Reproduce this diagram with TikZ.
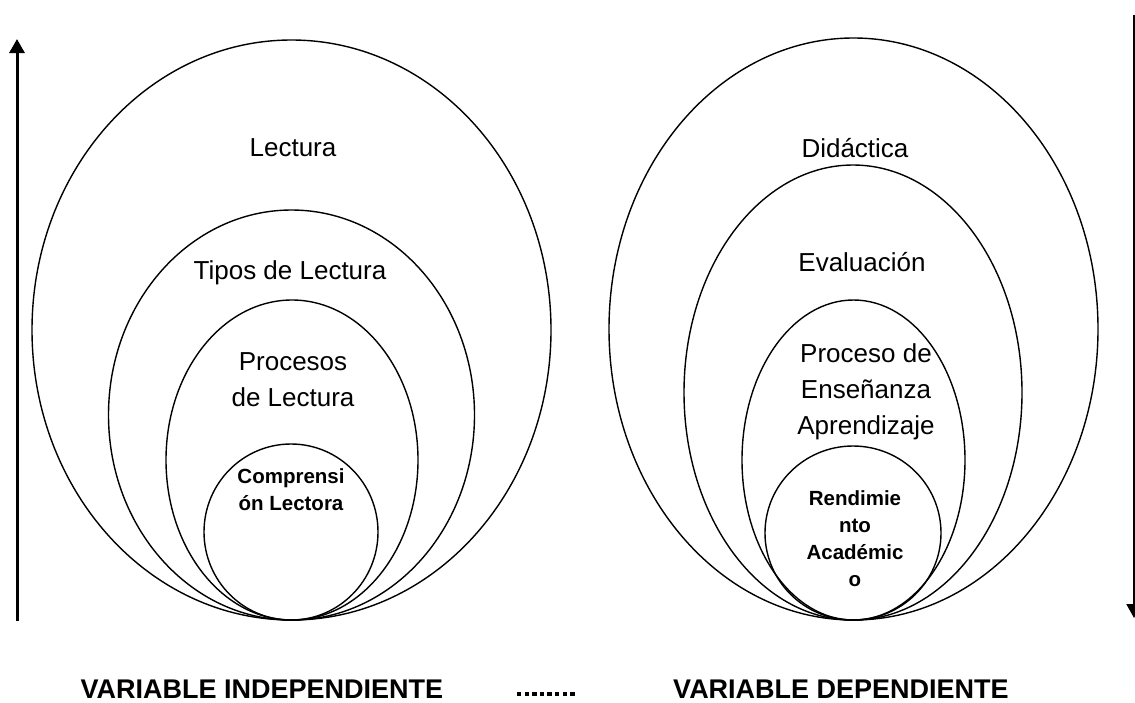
\documentclass[tikz,border=0pt]{standalone}
\usepackage{fontspec}
\setmainfont{Liberation Sans}
\usetikzlibrary{arrows.meta}
\begin{document}
\begin{tikzpicture}[x=1pt,y=-1pt,
  ring/.style={line width=1.4pt},
  big/.style={font=\fontsize{26}{36}\selectfont, align=center, inner sep=0pt},
  small/.style={font=\bfseries\fontsize{20.5}{27}\selectfont, align=center, inner sep=0pt},
  varlabel/.style={font=\bfseries\fontsize{27}{30}\selectfont, inner sep=0pt},
  axis/.style={line width=3pt, -{Triangle[width=15pt,length=14pt]}}]
\useasboundingbox (0,0) rectangle (1135,702);
% left ellipses
\draw[ring] (291.5,330) ellipse [x radius=259.5, y radius=290];
\draw[ring] (291.5,415) ellipse [x radius=183, y radius=205];
\draw[ring] (292,460) ellipse [x radius=126, y radius=160];
\draw[ring] (291,532) ellipse [x radius=87, y radius=88];
% right ellipses
\draw[ring] (853.5,329) ellipse [x radius=244.5, y radius=291];
\draw[ring] (853,392.5) ellipse [x radius=169, y radius=227.5];
\draw[ring] (853.5,460) ellipse [x radius=111.5, y radius=160];
\draw[ring] (853,533) ellipse [x radius=88, y radius=87];
% texts
\node[big] (lec) at (293,148) {Lectura};
\node[big] (tip) at (290,273) {Tipos de Lectura};
\node[big] (pro) at (293,380) {Procesos\\de Lectura};
\node[small] (com) at (291,490) {Comprensi\\ón Lectora};
\node[big] (did) at (855,148) {Didáctica};
\node[big] (eva) at (862,262) {Evaluación};
\node[big] (pea) at (866,392) {Proceso de\\Enseñanza\\Aprendizaje};
\node[small] (ren) at (855,539) {Rendimie\\nto\\Académic\\o};
% axes
\coordinate (la) at (17,621);
\coordinate (lb) at (17,39);
\draw[axis] (la) -- (lb);
\coordinate (ra) at (1134,15);
\coordinate (rb) at (1134,618);
\draw[line width=2pt, -{Triangle[width=15pt,length=14pt]}] (ra) -- (rb);
% bottom labels
\node[varlabel] (vi) at (262,689) {VARIABLE INDEPENDIENTE};
\node[varlabel] (vd) at (841,689) {VARIABLE DEPENDIENTE};
\foreach \i in {0,...,7} \fill (517+\i*7.6,692) rectangle ++(4.4,4);
\end{tikzpicture}
\end{document}
